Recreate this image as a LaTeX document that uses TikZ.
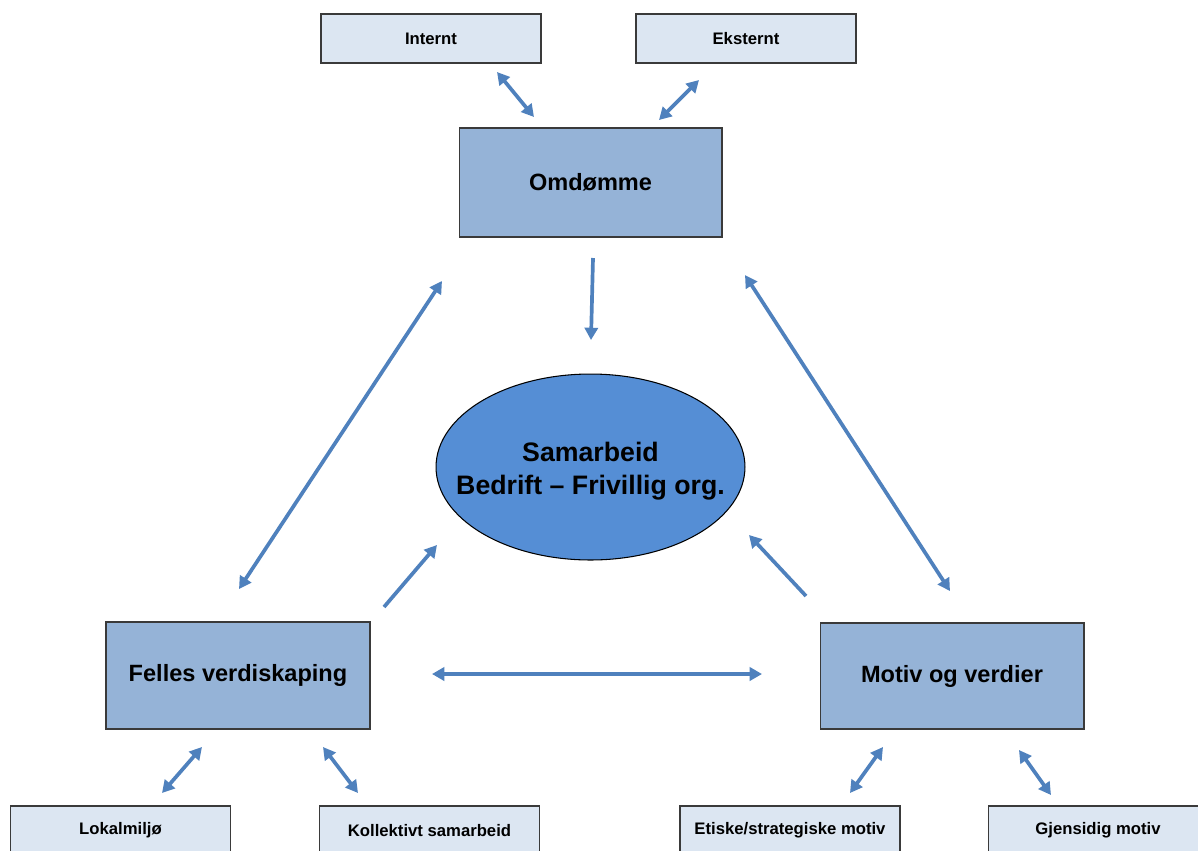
\documentclass[tikz,border=0pt]{standalone}
\usepackage{fontspec}
\setmainfont{Liberation Sans}
\usetikzlibrary{arrows.meta,shapes.geometric}
\definecolor{lightbox}{HTML}{DCE6F2}
\definecolor{midbox}{HTML}{95B3D7}
\definecolor{ellfill}{HTML}{558ED5}
\definecolor{arrowc}{HTML}{4F81BD}
\definecolor{edgec}{HTML}{3A3A3A}
\tikzset{
  smallbox/.style={draw=edgec, line width=0.6pt, fill=lightbox, inner sep=0pt,
    minimum width=4.4cm, minimum height=0.98cm, font=\bfseries\fontsize{9.5}{11}\selectfont},
  bigbox/.style={draw=edgec, line width=0.6pt, fill=midbox, inner sep=0pt,
    font=\bfseries\fontsize{13.4}{16}\selectfont},
  conn/.style={draw=arrowc, line width=2.1pt,
    arrows={-Triangle[length=7pt,width=7.5pt]}},
  dconn/.style={draw=arrowc, line width=2.1pt,
    arrows={Triangle[length=7pt,width=7.5pt]-Triangle[length=7pt,width=7.5pt]}}
}
\begin{document}
\begin{tikzpicture}[x=0.02cm,y=-0.02cm]
\clip (0,0) rectangle (1198,850);
\fill[white] (0,0) rectangle (1198,850);
% nodes
\node[smallbox] (internt) at (431,38.5) {Internt};
\node[smallbox] (eksternt) at (746,38.5) {Eksternt};
\node[bigbox, minimum width=5.26cm, minimum height=2.18cm] (omd) at (590.5,182.5) {Omdømme};
\node[ellipse, draw=black, line width=0.6pt, fill=ellfill, inner sep=0pt,
  minimum width=6.18cm, minimum height=3.72cm] (samarbeid) at (590.5,467) {};
\node[align=center, inner sep=0pt,
  font=\bfseries\fontsize{15.2}{18.7}\selectfont] (samtxt) at (590.5,471) {Samarbeid\\Bedrift -- Frivillig org.};
\node[bigbox, minimum width=5.28cm, minimum height=2.14cm] (felles) at (238,675.5) {Felles verdiskaping};
\node[bigbox, minimum width=5.28cm, minimum height=2.12cm] (motiv) at (952,676) {Motiv og verdier};
\node[smallbox] (lokal) at (120.5,830.5) {Lokalmiljø};
\node[smallbox] (kollektiv) at (429.5,830.5) {Kollektivt samarbeid};
\node[smallbox] (etiske) at (790,830.5) {Etiske/strategiske motiv};
\node[smallbox] (gjensidig) at (1098,830.5) {Gjensidig motiv};
% connector end points
\coordinate (a1) at (497,72);  \coordinate (a2) at (534,117);
\coordinate (b1) at (699,80);  \coordinate (b2) at (659,120);
\coordinate (c1) at (593,258); \coordinate (c2) at (591,340);
\coordinate (d1) at (442,281); \coordinate (d2) at (239,589);
\coordinate (e1) at (745,275); \coordinate (e2) at (950,591);
\coordinate (f1) at (384,607); \coordinate (f2) at (437,545);
\coordinate (g1) at (806,596); \coordinate (g2) at (749,535);
\coordinate (h1) at (432,674); \coordinate (h2) at (762,674);
\coordinate (i1) at (202,747); \coordinate (i2) at (162,793);
\coordinate (j1) at (323,747); \coordinate (j2) at (358,793);
\coordinate (k1) at (883,747); \coordinate (k2) at (850,793);
\coordinate (l1) at (1019,750); \coordinate (l2) at (1051,795);
% connectors
\draw[dconn] (a1) -- (a2);
\draw[dconn] (b1) -- (b2);
\draw[conn] (c1) -- (c2);
\draw[dconn] (d1) -- (d2);
\draw[dconn] (e1) -- (e2);
\draw[conn] (f1) -- (f2);
\draw[conn] (g1) -- (g2);
\draw[dconn] (h1) -- (h2);
\draw[dconn] (i1) -- (i2);
\draw[dconn] (j1) -- (j2);
\draw[dconn] (k1) -- (k2);
\draw[dconn] (l1) -- (l2);
\end{tikzpicture}
\end{document}
